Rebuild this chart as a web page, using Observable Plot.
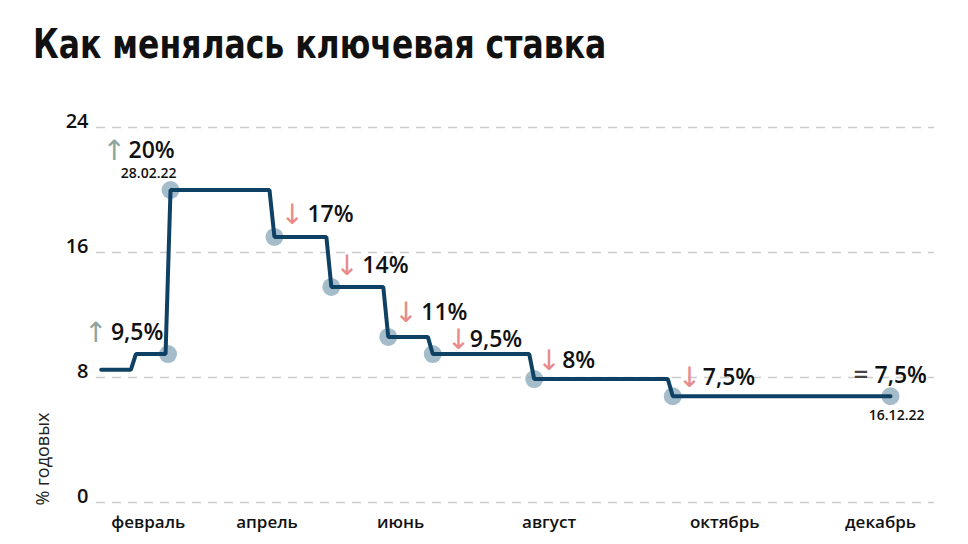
<!DOCTYPE html>
<html><head><meta charset="utf-8">
<script src="https://cdn.jsdelivr.net/npm/d3@7"></script>
<script src="https://cdn.jsdelivr.net/npm/@observablehq/plot@0.6"></script>
<style>
body{margin:0;background:#fff;}
#title{height:80px;box-sizing:border-box;padding:18px 0 0 33px;font-family:"DejaVu Sans Condensed","DejaVu Sans",sans-serif;font-stretch:condensed;font-weight:bold;font-size:35px;line-height:40px;color:#111;white-space:nowrap;transform:scale(1,1.15);transform-origin:0 0;}
#chart svg{display:block;}
</style></head><body>
<div id="title">Как менялась ключевая ставка</div>
<div id="chart"></div>
<script>
// ---- data ----
const startDate = "2022-01-31";
const startRate = 8.5;
const changeDates = ["2022-02-14","2022-02-28","2022-04-11","2022-05-04","2022-05-27","2022-06-14","2022-07-25","2022-09-19","2022-12-16"];
const rates = [9.5, 20, 17, 13.8, 10.6, 9.5, 7.9, 6.8, 6.8];
const directions = ["↑","↑","↓","↓","↓","↓","↓","↓","="];
const rateLabels = ["9,5%","20%","17%","14%","11%","9,5%","8%","7,5%","7,5%"];
const dateLabels = ["","28.02.22","","","","","","","16.12.22"];
const dotDates = ["2022-02-27","2022-02-28","2022-04-11","2022-05-04","2022-05-27","2022-06-14","2022-07-25","2022-09-19","2022-12-16"];
const dotRates = [9.5, 20, 17, 13.8, 10.6, 9.5, 7.9, 6.8, 6.8];
const yTicks = [0, 8, 16, 24];
const xTickDates = ["2022-02-19","2022-04-08","2022-06-01","2022-07-31","2022-10-10","2022-12-12"];
const xTickLabels = ["февраль","апрель","июнь","август","октябрь","декабрь"];
const yLabel = "% годовых";

// ---- layout (label offsets in px relative to each change point) ----
const layout = [
  {a:-52, t:-25, dy:-14},
  {a:-68, t:-42, dy:-32, ddx:6, ddy:-12},
  {a:6, t:33, dy:-15},
  {a:4, t:31, dy:-14},
  {a:6, t:33, dy:-17},
  {a:14, t:37, dy:-7},
  {a:3, t:28, dy:-11},
  {a:5, t:30, dy:-11},
  {a:-37, t:-16, dy:-13, ddx:34, ddy:24}
];

const parse = d3.utcParse("%Y-%m-%d");
const linePts = [{date: parse(startDate), rate: startRate}];
let prev = startRate;
changeDates.forEach((d, i) => {
  const t = parse(d);
  linePts.push({date: d3.utcDay.offset(t, -2), rate: prev});
  linePts.push({date: t, rate: rates[i]});
  prev = rates[i];
});
const dots = dotDates.map((d, i) => ({date: parse(d), rate: dotRates[i]}));
const events = changeDates.map((d, i) => ({date: parse(d), rate: rates[i], dir: directions[i], label: rateLabels[i], sub: dateLabels[i]}));
const xTicks = xTickDates.map((d, i) => ({date: parse(d), label: xTickLabels[i]}));

const font = "'Open Sans', sans-serif";
const marks = [
  Plot.ruleY(yTicks, {stroke: "#cccccc", strokeWidth: 1.5, strokeDasharray: "9,7"}),
  Plot.text(yTicks, {y: d => d, text: d => String(d), frameAnchor: "left", dx: -8, textAnchor: "end", lineAnchor: "bottom", fontSize: 20, fontWeight: 600, fill: "#111", fontFamily: font}),
  Plot.text(xTicks, {x: "date", text: "label", frameAnchor: "bottom", dy: 25, lineAnchor: "bottom", fontSize: 17, fontWeight: 600, fill: "#111", fontFamily: font}),
  Plot.text([yLabel], {text: d => d, frameAnchor: "bottom-left", dx: -48, dy: 3, rotate: -90, textAnchor: "start", lineAnchor: "bottom", fontSize: 18, fill: "#222", fontFamily: font}),
  Plot.dot(dots, {x: "date", y: "rate", r: 9, fill: "#7f9fb5", fillOpacity: 0.7}),
  Plot.line(linePts, {x: "date", y: "rate", stroke: "#0e4164", strokeWidth: 4, strokeLinejoin: "miter"})
];
events.forEach((e, i) => {
  const L = layout[i];
  const col = e.dir === "↑" ? "#8da59d" : e.dir === "↓" ? "#e78b8b" : "#444";
  marks.push(Plot.text([e], {x: "date", y: "rate", text: "dir", dx: L.a, dy: L.dy + (e.dir === "=" ? 0 : 2), textAnchor: "start", lineAnchor: "bottom", fontSize: e.dir === "=" ? 26 : 28, fontWeight: e.dir === "=" ? 600 : 400, fill: col, fontFamily: e.dir === "=" ? font : "'DejaVu Sans', sans-serif"}));
  marks.push(Plot.text([e], {x: "date", y: "rate", text: "label", dx: L.t, dy: L.dy, textAnchor: "start", lineAnchor: "bottom", fontSize: 23, fontWeight: 600, fill: "#111", fontFamily: font}));
  if (e.sub) marks.push(Plot.text([e], {x: "date", y: "rate", text: "sub", dx: L.ddx, dy: L.ddy, textAnchor: "end", lineAnchor: "bottom", fontSize: 14, fontWeight: 600, fill: "#111", fontFamily: font}));
});

const chart = Plot.plot({
  width: 968,
  height: 464,
  marginTop: 47,
  marginBottom: 42,
  marginLeft: 96,
  marginRight: 34,
  x: {type: "utc", domain: [new Date(Date.UTC(2022,0,29,2)), new Date(Date.UTC(2023,0,2,19))], axis: null},
  y: {domain: [0, 24], axis: null},
  style: {fontFamily: font, background: "#fff", overflow: "visible"},
  marks
});
document.getElementById("chart").appendChild(chart);
</script>
</body></html>
